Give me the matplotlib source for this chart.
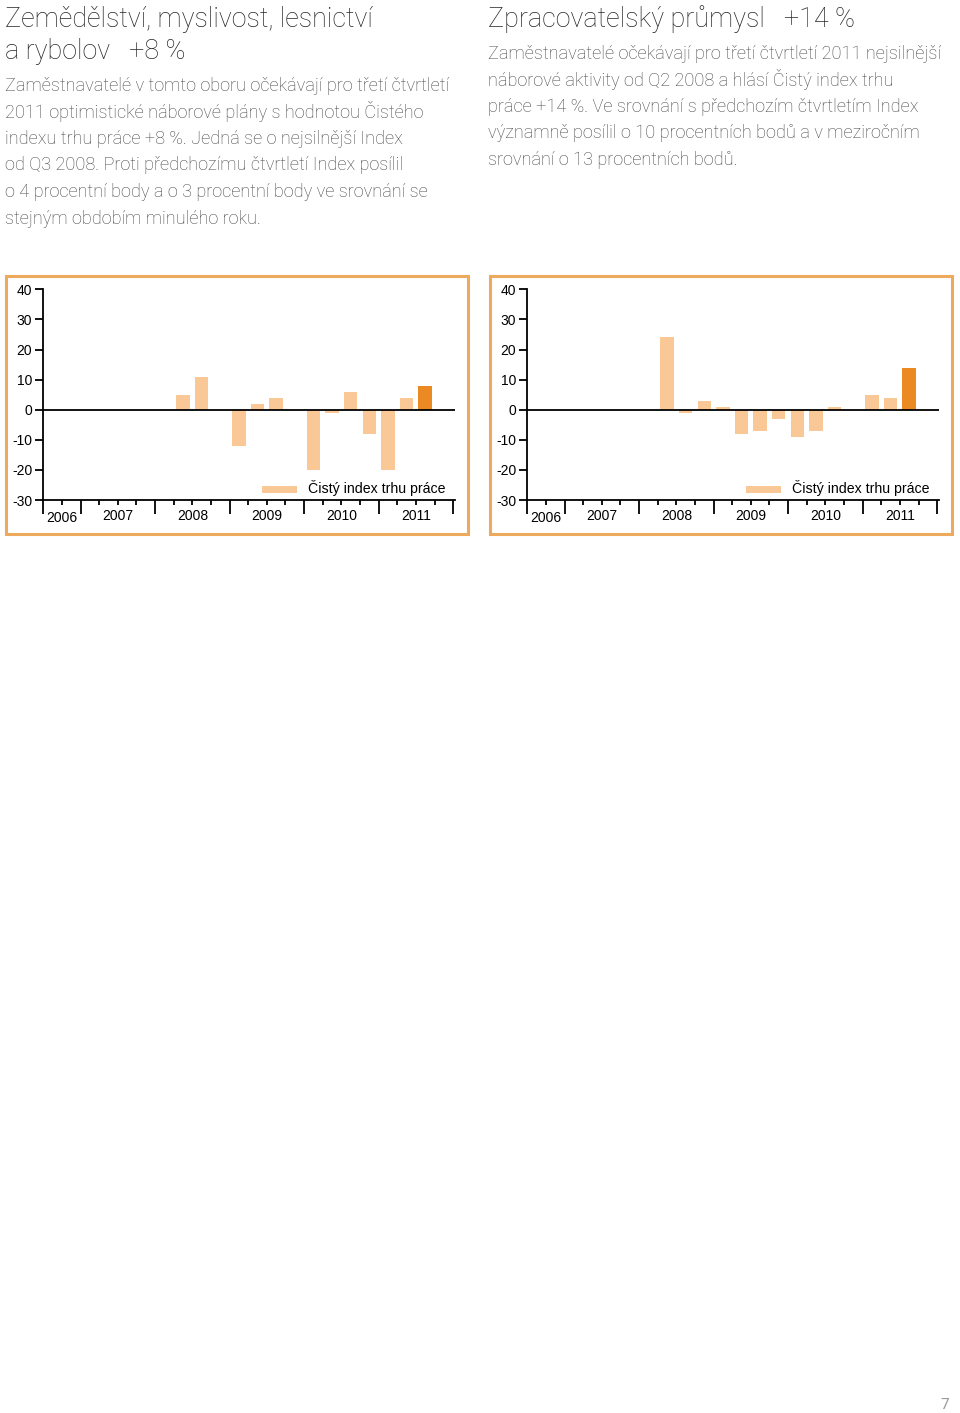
import matplotlib
matplotlib.use("Agg")
import matplotlib.pyplot as plt
from matplotlib.patches import Rectangle
import matplotlib.transforms as mtransforms

# ---------------- data ----------------
quarters = ["2006Q3", "2006Q4",
            "2007Q1", "2007Q2", "2007Q3", "2007Q4",
            "2008Q1", "2008Q2", "2008Q3", "2008Q4",
            "2009Q1", "2009Q2", "2009Q3", "2009Q4",
            "2010Q1", "2010Q2", "2010Q3", "2010Q4",
            "2011Q1", "2011Q2", "2011Q3", "2011Q4"]
years = ["2006", "2007", "2008", "2009", "2010", "2011"]
year_quarters = [2, 4, 4, 4, 4, 4]   # quarters shown per year

# Zemědělství, myslivost, lesnictví a rybolov (None = no bar)
agri = [None, None, None, None, None, None,
        None, 5, 11, 0, -12, 2, 4, 0, -20, -1, 6, -8, -20, 4, 8, None]
# Zpracovatelský průmysl
manuf = [None, None, None, None, None, None,
         None, 24, -1, 3, 1, -8, -7, -3, -9, -7, 1, 0, 5, 4, 14, None]
current_index = 20   # 2011Q3 highlighted

yticks = [-30, -20, -10, 0, 10, 20, 30, 40]
legend_label = "Čistý index trhu práce"

title_left = "Zemědělství, myslivost, lesnictví\na rybolov   +8 %"
body_left = ["Zaměstnavatelé v tomto oboru očekávají pro třetí čtvrtletí",
             "2011 optimistické náborové plány s hodnotou Čistého",
             "indexu trhu práce +8 %. Jedná se o nejsilnější Index",
             "od Q3 2008. Proti předchozímu čtvrtletí Index posílil",
             "o 4 procentní body a o 3 procentní body ve srovnání se",
             "stejným obdobím minulého roku."]
title_right = "Zpracovatelský průmysl   +14 %"
body_right = ["Zaměstnavatelé očekávají pro třetí čtvrtletí 2011 nejsilnější",
              "náborové aktivity od Q2 2008 a hlásí Čistý index trhu",
              "práce +14 %. Ve srovnání s předchozím čtvrtletím Index",
              "významně posílil o 10 procentních bodů a v meziročním",
              "srovnání o 13 procentních bodů."]
page_number = "7"

# ---------------- style ----------------
W, H = 960, 1413
LIGHT = "#F9C896"
DARK = "#EB8A22"
FRAME = "#EEAA5C"
TITLE_C = "#262626"
BODY_C = "#464646"

fig = plt.figure(figsize=(W / 100, H / 100), dpi=100)
fig.patch.set_facecolor("white")

def fx(x):
    return x / W

def fy(y):
    return 1 - y / H

TFONT = ["Roboto", "DejaVu Sans"]
BFONT = ["Roboto", "DejaVu Sans"]
CFONT = ["Liberation Sans", "DejaVu Sans"]

# texts
for i, line in enumerate(title_left.split("\n")):
    fig.text(fx(5), fy(27 + i * 32), line, fontsize=19.4, color=TITLE_C,
             family=TFONT, fontweight="light", va="baseline")
fig.text(fx(488), fy(27), title_right, fontsize=19.4, color=TITLE_C,
         family=TFONT, fontweight="light", va="baseline")
for i, line in enumerate(body_left):
    fig.text(fx(5), fy(91 + i * 26.5), line, fontsize=13.05, color=BODY_C,
             family=BFONT, fontweight="light", va="baseline")
for i, line in enumerate(body_right):
    fig.text(fx(488), fy(59 + i * 26.5), line, fontsize=13.05, color=BODY_C,
             family=BFONT, fontweight="light", va="baseline")
fig.text(fx(945), fy(1409), page_number, fontsize=11, color="#999999",
         family=BFONT, ha="center", va="baseline")


def draw_panel(x0, values):
    # frame
    fig.patches.append(Rectangle((fx(x0), fy(534)), fx(462), 258 / H,
                                 transform=fig.transFigure, fill=False,
                                 edgecolor=FRAME, linewidth=2.2))
    left = x0 + 37.3
    right = x0 + 449
    ax = fig.add_axes([fx(left), fy(500), fx(right - left), (500 - 289.3) / H])
    n = len(quarters)
    ax.set_xlim(0, n + 0.1)
    ax.set_ylim(-30, 40)
    xs, hs, cs = [], [], []
    for i, v in enumerate(values):
        if v is None:
            continue
        xs.append(i + 0.5)
        hs.append(v)
        cs.append(DARK if i == current_index else LIGHT)
    ax.bar(xs, hs, width=0.72, color=cs, zorder=2)
    ax.axhline(0, color="black", linewidth=1.3, zorder=3)
    for s in ["top", "right"]:
        ax.spines[s].set_visible(False)
    ax.spines["left"].set_linewidth(1.3)
    ax.spines["bottom"].set_linewidth(1.3)
    ax.set_yticks(yticks)
    ax.set_yticklabels([str(t) for t in yticks], family=CFONT, fontsize=10)
    ax.tick_params(axis="y", direction="out", length=6, width=1.3, pad=2)
    # x ticks: year boundaries (major) and quarters (minor)
    bounds = [0]
    for q in year_quarters:
        bounds.append(bounds[-1] + q)
    ax.set_xticks(bounds)
    ax.set_xticklabels([])
    ax.set_xticks(range(n + 1), minor=True)
    ax.tick_params(axis="x", which="major", direction="out", length=10, width=1.3)
    ax.tick_params(axis="x", which="minor", direction="out", length=3.5, width=1.3)
    trans = mtransforms.blended_transform_factory(ax.transData, ax.transAxes)
    for k, yr in enumerate(years):
        cx = (bounds[k] + bounds[k + 1]) / 2
        dy = -0.085 if k == 0 else -0.078
        ax.text(cx, dy, yr, transform=trans, ha="center", va="center",
                family=CFONT, fontsize=10, color="black")
    # legend
    ax.add_patch(Rectangle((0.531, 0.033), 0.085, 0.033, transform=ax.transAxes,
                           facecolor=LIGHT, edgecolor="none", clip_on=False))
    ax.text(0.643, 0.055, legend_label, transform=ax.transAxes, ha="left",
            va="center", family=CFONT, fontsize=10.2, color="black")
    return ax

draw_panel(6, agri)
draw_panel(490, manuf)

fig.savefig("out.png", dpi=100, facecolor="white")
